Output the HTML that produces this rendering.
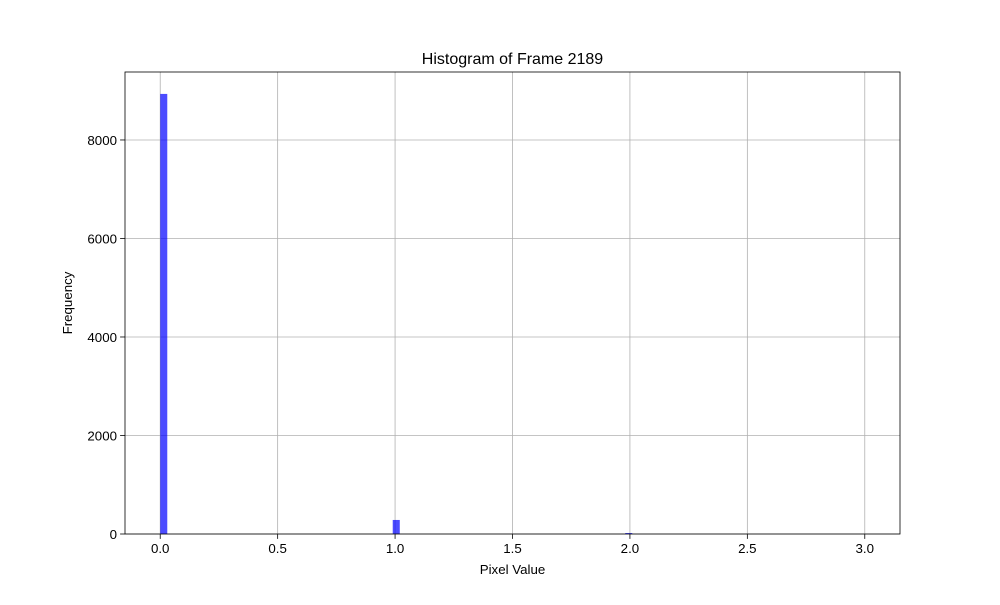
<!DOCTYPE html>
<html><head><meta charset="utf-8"><style>body{margin:0;background:#fff}svg{font-family:"Liberation Sans","DejaVu Sans",sans-serif}</style></head>
<body>
<svg id="c" width="1000" height="600"></svg>
<script>
const binStarts=[0,0.99,1.98];
const counts=[8935,285,20];
const binWidth=0.03;
const xTicks=[0,0.5,1,1.5,2,2.5,3];
const xTickLabels=["0.0","0.5","1.0","1.5","2.0","2.5","3.0"];
const yTicks=[0,2000,4000,6000,8000];
const yTickLabels=["0","2000","4000","6000","8000"];
const L=125,R=900,T=72,B=534,xmin=-0.15,xmax=3.15,ymax=9380;
const x=v=>L+(v-xmin)/(xmax-xmin)*(R-L);
const y=v=>B-v/ymax*(B-T);
const svg=document.getElementById('c');const NS='http://www.w3.org/2000/svg';
function mk(t,a,txt){const e=document.createElementNS(NS,t);for(const k in a)e.setAttribute(k,a[k]);if(txt!=null)e.textContent=txt;svg.appendChild(e);return e;}
xTicks.forEach((v,i)=>{
const g=mk('line',{x1:x(v),x2:x(v),y1:T,y2:B,stroke:'#b0b0b0','stroke-width':0.8});


const tk=mk('line',{x1:x(v),x2:x(v),y1:B,y2:B+4.9,stroke:'#000','stroke-width':0.8});


const l=mk('text',{x:x(v),y:B+19,'text-anchor':'middle','font-size':13.3},xTickLabels[i]);


});
yTicks.forEach((v,i)=>{
const g=mk('line',{x1:L,x2:R,y1:y(v),y2:y(v),stroke:'#b0b0b0','stroke-width':0.8});


const tk=mk('line',{x1:L-4.9,x2:L,y1:y(v),y2:y(v),stroke:'#000','stroke-width':0.8});


const l=mk('text',{x:L-8,y:y(v)+5,'text-anchor':'end','font-size':13.3},yTickLabels[i]);


});
binStarts.forEach((s,i)=>{
const b=mk('rect',{x:x(s),y:y(counts[i]),width:x(s+binWidth)-x(s),height:B-y(counts[i]),fill:'rgba(0,0,255,0.7)'});


});
const f=mk('rect',{x:L,y:T,width:R-L,height:B-T,fill:'none',stroke:'#000','stroke-width':0.8});


const t=mk('text',{x:(L+R)/2,y:64,'text-anchor':'middle','font-size':16},'Histogram of Frame 2189');


const xt=mk('text',{x:(L+R)/2,y:574,'text-anchor':'middle','font-size':13.3},'Pixel Value');


const yt=mk('text',{x:0,y:0,'text-anchor':'middle','font-size':13.3,transform:'translate(72,303) rotate(-90)'},'Frequency');


</script>
</body></html>
